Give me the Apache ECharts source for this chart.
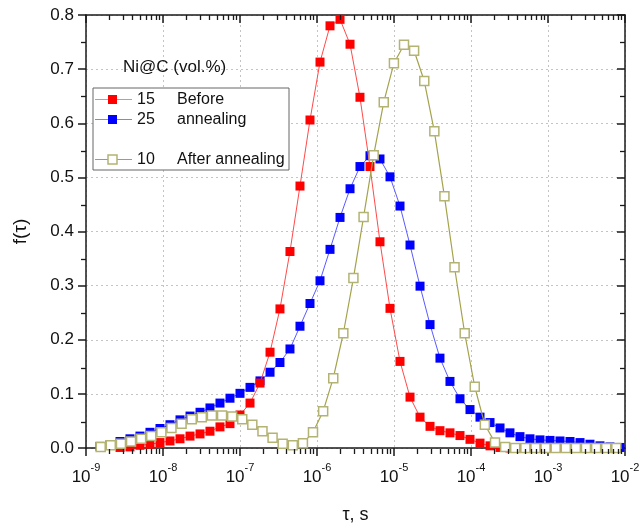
<!DOCTYPE html>
<html>
<head>
<meta charset="utf-8">
<script src="https://cdn.jsdelivr.net/npm/echarts@6/dist/echarts.min.js"></script>
<style>html,body{margin:0;padding:0;background:#fff}#c{width:644px;height:529px}</style>
</head>
<body>
<div id="c"></div>
<script>
// log10(tau) grid for the "before annealing" samples
const logTauA = [-8.818,-8.688,-8.558,-8.429,-8.299,-8.169,-8.039,-7.909,-7.779,-7.649,
  -7.519,-7.390,-7.260,-7.130,-7.000,-6.870,-6.740,-6.610,-6.481,-6.351,
  -6.221,-6.091,-5.961,-5.831,-5.701,-5.571,-5.442,-5.312,-5.182,-5.052,
  -4.922,-4.792,-4.662,-4.532,-4.403,-4.273,-4.143,-4.013,-3.883,-3.753,
  -3.623,-3.494,-3.364,-3.234,-3.104,-2.974,-2.844,-2.714,-2.584,-2.455,
  -2.325,-2.195,-2.065];
const f15 = [null,null,0.001,0.002,0.005,0.007,0.010,0.013,0.017,0.022,
  0.026,0.031,0.039,0.045,0.061,0.083,0.120,0.177,0.257,0.363,
  0.484,0.606,0.713,0.780,0.792,0.746,0.648,0.520,0.381,0.258,
  0.160,0.094,0.057,0.040,0.032,0.028,0.023,0.016,0.009,0.004,
  0.001,0,0,0,0,0,0,0,0,0,
  0,0,null];
const f25 = [0.003,0.006,0.012,0.017,0.022,0.029,0.036,0.043,0.052,0.059,
  0.066,0.074,0.083,0.092,0.101,0.112,0.124,0.140,0.158,0.183,
  0.225,0.267,0.309,0.367,0.426,0.479,0.520,0.540,0.534,0.501,
  0.447,0.375,0.299,0.228,0.166,0.123,0.091,0.071,0.057,0.047,
  0.037,0.028,0.021,0.017,0.015,0.014,0.013,0.012,0.010,0.007,
  0.004,0.002,0.001];
// log10(tau) grid for the "after annealing" sample
const logTauB = [-8.809,-8.678,-8.546,-8.415,-8.284,-8.153,-8.021,-7.890,-7.759,-7.627,
  -7.496,-7.365,-7.233,-7.102,-6.971,-6.840,-6.708,-6.577,-6.446,-6.314,
  -6.183,-6.052,-5.920,-5.789,-5.658,-5.527,-5.395,-5.264,-5.133,-5.001,
  -4.870,-4.739,-4.607,-4.476,-4.345,-4.214,-4.082,-3.951,-3.820,-3.688,
  -3.557,-3.426,-3.294,-3.163,-3.032,-2.901,-2.769,-2.638,-2.507,-2.375,
  -2.244,-2.113];
const f10 = [0.002,0.005,0.008,0.012,0.017,0.022,0.029,0.037,0.045,0.053,
  0.057,0.060,0.060,0.058,0.053,0.043,0.031,0.019,0.008,0.005,
  0.009,0.029,0.068,0.129,0.212,0.314,0.427,0.541,0.639,0.711,
  0.745,0.734,0.678,0.585,0.465,0.334,0.212,0.113,0.043,0.010,
  0.002,0,0,0,0,0,0,0,0,0,
  0,0];
const xDecades = [-9,-8,-7,-6,-5,-4,-3,-2];
const yTicks = [0,0.1,0.2,0.3,0.4,0.5,0.6,0.7,0.8];
const yMinor = [0.05,0.15,0.25,0.35,0.45,0.55,0.65,0.75];
const legendTitle = 'Ni@C (vol.%)';
const legendRows = [['15','Before'],['25','annealing'],['10','After annealing']];

// minor tick positions of the logarithmic tau axis (2..9 x 10^n)
const minorX = [];
for (let n = -9; n < -2; n++) for (let m = 2; m <= 9; m++) minorX.push(n + Math.log10(m));

const pair = (xs, ys) => xs.map((x, i) => [x, ys[i]]);
const FONT = 'Arial, "Liberation Sans", sans-serif';
const AX = '#1a1a1a';
const RED = '#ff0000', BLUE = '#0000ff', OLIVE_LINE = '#a3a34c', OLIVE = '#b3b373';

// plot frame (grid) geometry
const G = {left: 86, right: 19, top: 15, bottom: 80};
const W = 644, H = 529;
const X0 = G.left, X1 = W - G.right, Y0 = G.top, Y1 = H - G.bottom;
const XMIN = -9, XMAX = -2, YMIN = 0, YMAX = 0.8;
const px = v => X0 + (v - XMIN) / (XMAX - XMIN) * (X1 - X0);
const py = v => Y1 - (v - YMIN) / (YMAX - YMIN) * (Y1 - Y0);

const tickStyle = {stroke: AX, lineWidth: 1.3};
const tickGraphic = [];
minorX.forEach(v => {
  const x = Math.round(px(v)) + 0.5;
  tickGraphic.push({type: 'line', z: 20, silent: true, shape: {x1: x, y1: Y1, x2: x, y2: Y1 + 5}, style: tickStyle});
  tickGraphic.push({type: 'line', z: 20, silent: true, shape: {x1: x, y1: Y0, x2: x, y2: Y0 + 5}, style: tickStyle});
});
yMinor.forEach(v => {
  const y = Math.round(py(v)) + 0.5;
  tickGraphic.push({type: 'line', z: 20, silent: true, shape: {x1: X0 - 5, y1: y, x2: X0, y2: y}, style: tickStyle});
  tickGraphic.push({type: 'line', z: 20, silent: true, shape: {x1: X1 - 5, y1: y, x2: X1, y2: y}, style: tickStyle});
});

const legendGraphic = [
  {type: 'text', left: 123, top: 59, z: 10, style: {text: legendTitle, font: '17px ' + FONT, fill: '#111'}},
  {type: 'rect', shape: {x: 93, y: 88, width: 196, height: 82}, z: 10,
    style: {fill: '#fff', stroke: '#666', lineWidth: 1}},
  {type: 'line', shape: {x1: 95, y1: 99.5, x2: 132, y2: 99.5}, z: 11, style: {stroke: '#ff8080', lineWidth: 1}},
  {type: 'rect', shape: {x: 108, y: 95, width: 9, height: 9}, z: 12, style: {fill: RED}},
  {type: 'line', shape: {x1: 95, y1: 119.5, x2: 132, y2: 119.5}, z: 11, style: {stroke: '#8080ff', lineWidth: 1}},
  {type: 'rect', shape: {x: 108, y: 115, width: 9, height: 9}, z: 12, style: {fill: BLUE}},
  {type: 'line', shape: {x1: 95, y1: 159.5, x2: 132, y2: 159.5}, z: 11, style: {stroke: OLIVE_LINE, lineWidth: 1}},
  {type: 'rect', shape: {x: 108, y: 155, width: 9, height: 9}, z: 12, style: {fill: '#fff', stroke: OLIVE, lineWidth: 1.5}},
  {type: 'text', x: 137, y: 99.5, z: 12, style: {text: legendRows[0][0], font: '16px ' + FONT, fill: '#111', verticalAlign: 'middle'}},
  {type: 'text', x: 177, y: 99.5, z: 12, style: {text: legendRows[0][1], font: '16px ' + FONT, fill: '#111', verticalAlign: 'middle'}},
  {type: 'text', x: 137, y: 119.5, z: 12, style: {text: legendRows[1][0], font: '16px ' + FONT, fill: '#111', verticalAlign: 'middle'}},
  {type: 'text', x: 177, y: 119.5, z: 12, style: {text: legendRows[1][1], font: '16px ' + FONT, fill: '#111', verticalAlign: 'middle'}},
  {type: 'text', x: 137, y: 159.5, z: 12, style: {text: legendRows[2][0], font: '16px ' + FONT, fill: '#111', verticalAlign: 'middle'}},
  {type: 'text', x: 177, y: 159.5, z: 12, style: {text: legendRows[2][1], font: '16px ' + FONT, fill: '#111', verticalAlign: 'middle'}}
];

const chart = echarts.init(document.getElementById('c'), null, {renderer: 'canvas'});
const gridLine = {show: true, lineStyle: {color: '#c4c4c4', type: [2, 3], width: 1}};
const baseX = {type: 'value', min: XMIN, max: XMAX, interval: 1};
chart.setOption({
  animation: false,
  grid: {left: G.left, right: G.right, top: G.top, bottom: G.bottom, containLabel: false},
  xAxis: [
    Object.assign({}, baseX, {position: 'bottom',
      axisLine: {show: true, onZero: false, lineStyle: {color: AX, width: 1.5}},
      axisTick: {show: true, inside: false, length: 8, lineStyle: {color: AX, width: 1.5}},
      splitLine: gridLine,
      axisLabel: {margin: 14, color: '#111',
        formatter: v => '{b|10}{s|' + Math.round(v) + '}',
        rich: {b: {fontFamily: FONT, fontSize: 17, color: '#111', verticalAlign: 'bottom', lineHeight: 24},
               s: {fontFamily: FONT, fontSize: 11, color: '#111', verticalAlign: 'top', lineHeight: 12}}},
      name: 'τ, s', nameLocation: 'middle', nameGap: 58,
      nameTextStyle: {fontFamily: FONT, fontSize: 18, color: '#111'}}),
    Object.assign({}, baseX, {position: 'top',
      axisLine: {show: true, onZero: false, lineStyle: {color: AX, width: 1.5}},
      axisTick: {show: true, inside: true, length: 8, lineStyle: {color: AX, width: 1.5}},
      axisLabel: {show: false}, splitLine: {show: false}})
  ],
  yAxis: [
    {type: 'value', min: YMIN, max: YMAX, interval: 0.1, position: 'left',
      axisLine: {show: true, onZero: false, lineStyle: {color: AX, width: 1.5}},
      axisTick: {show: true, inside: false, length: 8, lineStyle: {color: AX, width: 1.5}},
      splitLine: gridLine,
      axisLabel: {margin: 12, fontFamily: FONT, fontSize: 17, color: '#111', formatter: v => v.toFixed(1)},
      name: 'f(τ)', nameLocation: 'middle', nameGap: 56, nameRotate: 90,
      nameTextStyle: {fontFamily: FONT, fontSize: 19, color: '#111'}},
    {type: 'value', min: YMIN, max: YMAX, interval: 0.1, position: 'right',
      axisLine: {show: true, onZero: false, lineStyle: {color: AX, width: 1.5}},
      axisTick: {show: true, inside: true, length: 8, lineStyle: {color: AX, width: 1.5}},
      splitLine: {show: false}, axisLabel: {show: false}}
  ],
  series: [
    {name: '25', type: 'line', data: pair(logTauA, f25), symbol: 'rect', symbolSize: 9,
      lineStyle: {color: '#5a5aff', width: 1}, itemStyle: {color: BLUE, borderWidth: 0}, z: 2},
    {name: '15', type: 'line', data: pair(logTauA, f15), symbol: 'rect', symbolSize: 9,
      lineStyle: {color: '#ff4a4a', width: 1}, itemStyle: {color: RED, borderWidth: 0}, z: 3},
    {name: '10', type: 'line', data: pair(logTauB, f10), symbol: 'rect', symbolSize: 9,
      lineStyle: {color: OLIVE_LINE, width: 1.2}, itemStyle: {color: '#fff', borderColor: OLIVE, borderWidth: 1.5}, z: 4}
  ],
  graphic: legendGraphic.concat(tickGraphic)
});
</script>
</body>
</html>
